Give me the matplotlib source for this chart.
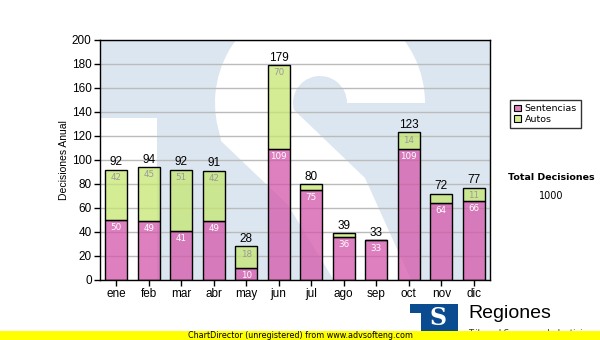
import matplotlib.pyplot as plt
import numpy as np
from matplotlib.patches import Rectangle, Wedge, Polygon

months = ['ene', 'feb', 'mar', 'abr', 'may', 'jun', 'jul', 'ago', 'sep', 'oct', 'nov', 'dic']
sentencias = [50, 49, 41, 49, 10, 109, 75, 36, 33, 109, 64, 66]
autos = [42, 45, 51, 42, 18, 70, 5, 3, 0, 14, 8, 11]
yticks = list(range(0, 201, 20))

pink = '#d456aa'
green = '#c6e670'
wm_blue = '#dce6f0'

W, H = 600, 340
fig = plt.figure(figsize=(W / 100, H / 100), dpi=100)

# plot area in pixels: x 100..490, y 40..280
L, R, T, B = 100, 490, 40, 280
pos = [L / W, 1 - B / H, (R - L) / W, (B - T) / H]

# watermark logo behind the bars (pixel coordinates, y down)
bg = fig.add_axes(pos, zorder=0)
bg.set_xlim(L, R)
bg.set_ylim(B, T)
bg.axis('off')
bg.add_patch(Rectangle((L, T), R - L, B - T, color=wm_blue, lw=0))
bg.add_patch(Rectangle((L, 118), 57, B - 118, color='white', lw=0))
bg.add_patch(Wedge((320, 103), 105, 160, 360, width=78, color='white', lw=0))
bg.add_patch(Polygon([(218, 124), (292, 108), (365, 178), (412, 282),
                      (335, 282), (288, 205), (221, 141)], closed=True, color='white', lw=0))

ax = fig.add_axes(pos, zorder=1)
ax.set_facecolor('none')

x = np.arange(len(months))
totals = [s + a for s, a in zip(sentencias, autos)]
ax.bar(x, sentencias, width=0.68, color=pink, alpha=0.75, linewidth=0)
ax.bar(x, sentencias, width=0.68, color='none', edgecolor='black', linewidth=1)
ax.bar(x, autos, bottom=sentencias, width=0.68, color=green, alpha=0.75, linewidth=0)
ax.bar(x, autos, bottom=sentencias, width=0.68, color='none', edgecolor='black', linewidth=1)

for i in x:
    ax.annotate(str(sentencias[i]), (i, sentencias[i]), xytext=(0, -5.5), textcoords='offset points',
                ha='center', va='center', fontsize=6.3, color='white', family='DejaVu Sans')
    if autos[i] >= 10:
        ax.annotate(str(autos[i]), (i, totals[i]), xytext=(0, -5.5), textcoords='offset points',
                    ha='center', va='center', fontsize=6.3, color='#9a9a9a', family='DejaVu Sans')
    ax.annotate(str(totals[i]), (i, totals[i]), xytext=(0, 1), textcoords='offset points',
                ha='center', va='bottom', fontsize=8.5, color='black', family='Liberation Sans')

ax.set_xlim(-0.5, 11.5)
ax.set_ylim(0, 200)
ax.set_yticks(yticks)
ax.set_xticks(x)
ax.set_xticklabels(months)
ax.grid(axis='y', color='#bbbbbb', linewidth=1)
ax.set_axisbelow(True)
for s in ax.spines.values():
    s.set_color('black')
    s.set_linewidth(1)
ax.tick_params(length=4, width=1, color='black', labelsize=8.5, pad=2)
for lbl in ax.get_xticklabels() + ax.get_yticklabels():
    lbl.set_family('Liberation Sans')
ax.set_ylabel('Decisiones Anual', fontsize=7.5, family='Liberation Sans', labelpad=2)

# legend
handles = [Rectangle((0, 0), 1, 1, facecolor='#df80bf', edgecolor='black', lw=0.8),
           Rectangle((0, 0), 1, 1, facecolor='#d4ec94', edgecolor='black', lw=0.8)]
leg = fig.legend(handles, ['Sentencias', 'Autos'], loc='upper left',
                 bbox_to_anchor=(510 / W, 1 - 100 / H), fontsize=6.8, frameon=True,
                 fancybox=False, edgecolor='black', handlelength=0.7, handleheight=0.7,
                 handletextpad=0.4, borderpad=0.45, labelspacing=0.15, borderaxespad=0)
leg.get_frame().set_linewidth(1)

fig.text(551 / W, 1 - 177 / H, 'Total Decisiones', ha='center', va='center',
         fontsize=6.8, fontweight='bold', family='DejaVu Sans')
fig.text(551 / W, 1 - 196 / H, '1000', ha='center', va='center', fontsize=7, family='DejaVu Sans')

# logo in the lower right corner
logo = fig.add_axes([0, 0, 1, 1], zorder=2)
logo.set_xlim(0, W)
logo.set_ylim(H, 0)
logo.axis('off')
logo.add_patch(Polygon([(410, 304), (458, 304), (458, 331), (421, 331), (421, 313), (410, 313)],
                       closed=True, color='#0b4b8f', lw=0))
logo.text(438, 318, 'S', ha='center', va='center', fontsize=17, fontweight='bold',
          color='white', family='DejaVu Serif')
logo.text(468, 314, 'Regiones', ha='left', va='center', fontsize=14, family='Liberation Sans')
logo.text(468, 334, 'Tribunal Supremo de Justicia', ha='left', va='center', fontsize=6,
          family='DejaVu Sans', color='#333333')
logo.add_patch(Rectangle((0, 330.5), W, 10, color='#ffff00', lw=0, zorder=3))
logo.text(300, 335.5, 'ChartDirector (unregistered) from www.advsofteng.com', ha='center',
          va='center', fontsize=5.8, family='DejaVu Sans', zorder=4)

fig.savefig('out.png', dpi=100)
